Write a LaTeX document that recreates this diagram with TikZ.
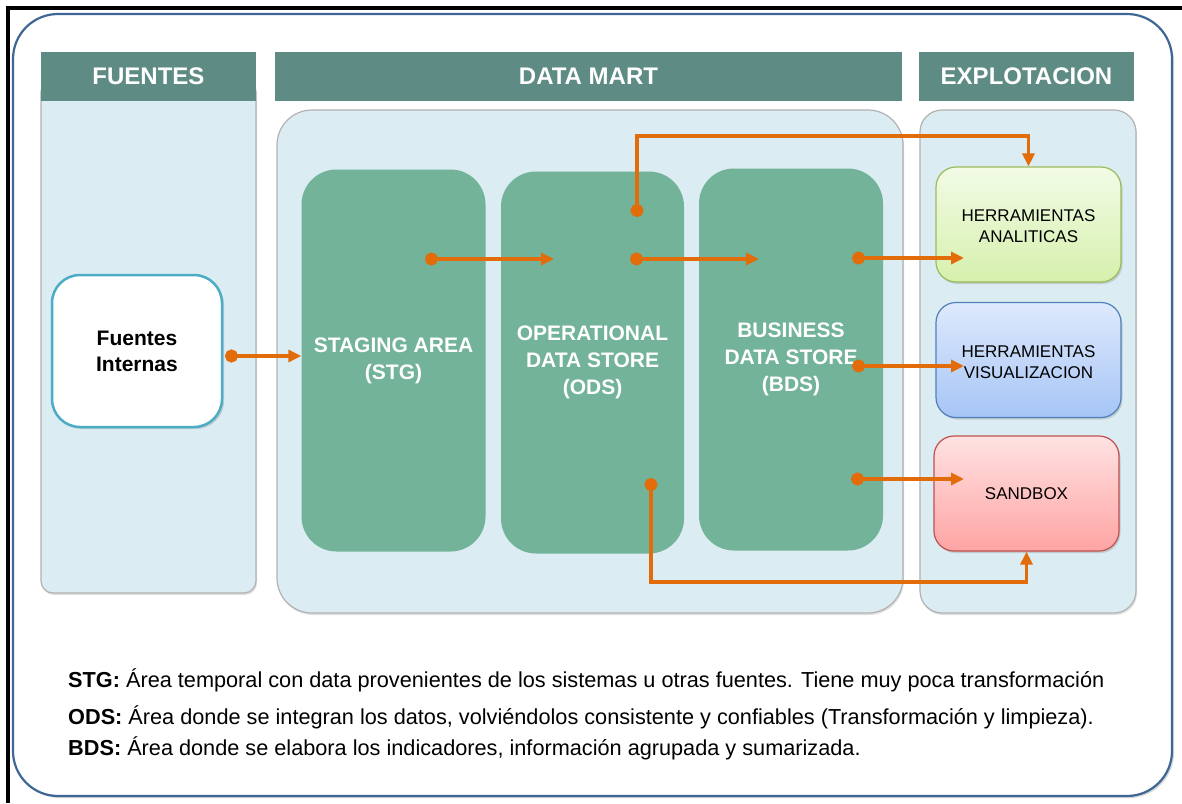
\documentclass[tikz,border=0pt]{standalone}
\usepackage{fontspec}
\setmainfont{Liberation Sans}
\usepackage{tikz}
\usetikzlibrary{arrows.meta, shadows, positioning}

\definecolor{cabecera}{HTML}{5E8B84}
\definecolor{fondo}{HTML}{DBECF2}
\definecolor{capa}{HTML}{72B39A}
\definecolor{naranja}{HTML}{E36C0A}
\definecolor{marco}{HTML}{3F6796}
\definecolor{borFuente}{HTML}{4BACC6}
\definecolor{borVerde}{HTML}{9BBB59}
\definecolor{verdeArriba}{HTML}{F2FBE6}
\definecolor{verdeAbajo}{HTML}{D6F0AC}
\definecolor{borAzul}{HTML}{4F81BD}
\definecolor{azulArriba}{HTML}{DEE9FC}
\definecolor{azulAbajo}{HTML}{A6C5F6}
\definecolor{borRojo}{HTML}{C0504D}
\definecolor{rojoArriba}{HTML}{FFE2E2}
\definecolor{rojoAbajo}{HTML}{FFA4A4}

\begin{document}
\begin{tikzpicture}[x=1pt, y=-1pt, font=\fontsize{20}{24}\selectfont,
    titulo/.style={fill=cabecera, text=white, font=\bfseries\fontsize{24}{28}\selectfont,
        minimum height=49pt, inner sep=0pt},
    panel/.style={fill=fondo, draw=black!30, line width=1.2pt, inner sep=0pt,
        drop shadow={shadow xshift=1pt, shadow yshift=-2pt, opacity=0.25}},
    etapa/.style={fill=capa, text=white, rounded corners=35pt, inner sep=0pt,
        minimum width=184pt, minimum height=382pt, align=center,
        font=\bfseries\fontsize{21}{27}\selectfont},
    herramienta/.style={rounded corners=20pt, inner sep=0pt, line width=1.2pt,
        minimum width=185pt, minimum height=115pt, align=center,
        font=\fontsize{17}{21}\selectfont,
        drop shadow={shadow xshift=1.5pt, shadow yshift=-2pt, opacity=0.3}},
    flecha/.style={draw=naranja, line width=3.5pt,
        {Circle[length=13pt]}-{Triangle[length=13pt, width=12pt]}},
    guia/.style={anchor=west, inner sep=0pt, font=\fontsize{21.7}{26}\selectfont}]

    \useasboundingbox (0,0) rectangle (1182,803);
    \fill[white] (0,0) rectangle (1182,803);

    % --- Marco exterior ---
    \draw[line width=3.5pt] (8,803) -- (8,8) -- (1182,8);
    \node[draw=marco, line width=2.2pt, fill=white, rounded corners=45pt,
        minimum width=1159pt, minimum height=782pt, inner sep=0pt,
        drop shadow={shadow xshift=2pt, shadow yshift=-2pt, opacity=0.3}] (marco) at (592.5,405) {};

    % --- Paneles de las columnas ---
    \node[panel, rounded corners=12pt, minimum width=215pt, minimum height=513pt] (pFuentes) at (148.5,336.5) {};
    \node[panel, rounded corners=35pt, minimum width=626pt, minimum height=503pt] (pDataMart) at (590,361.5) {};
    \node[panel, rounded corners=22pt, minimum width=216pt, minimum height=503pt] (pExplot) at (1028,361.5) {};

    % --- Cabeceras ---
    \node[titulo, minimum width=215pt] (hFuentes) at (148.5,76.5) {FUENTES};
    \node[titulo, minimum width=627pt] (hDataMart) at (588.5,76.5) {DATA MART};
    \node[titulo, minimum width=215pt] (hExplot) at (1026.5,76.5) {EXPLOTACION};

    % --- Fuentes ---
    \node[draw=borFuente, fill=white, line width=2.5pt, rounded corners=28pt,
        minimum width=170pt, minimum height=152pt, inner sep=0pt, align=center,
        font=\bfseries\fontsize{21}{26}\selectfont,
        drop shadow={shadow xshift=2pt, shadow yshift=-2pt, opacity=0.3}] (fi) at (137,351) {Fuentes\\Internas};

    % --- Data Mart: STG, ODS, BDS ---
    \node[etapa] (stg) at (393.5,360.5) {STAGING AREA\\(STG)};
    \node[etapa, minimum width=183pt] (ods) at (592.5,362.5) {OPERATIONAL\\DATA STORE\\(ODS)};
    \node[etapa] (bds) at (791,359.5) {BUSINESS\\DATA STORE\\(BDS)};

    % --- Explotacion ---
    \node[herramienta, draw=borVerde, top color=verdeArriba, bottom color=verdeAbajo] (ana) at (1028.5,224.5) {\rule{0pt}{16pt}HERRAMIENTAS\\ANALITICAS};
    \node[herramienta, draw=borAzul, top color=azulArriba, bottom color=azulAbajo] (vis) at (1028.5,360) {\rule{0pt}{16pt}HERRAMIENTAS\\VISUALIZACION};
    \node[herramienta, draw=borRojo, top color=rojoArriba, bottom color=rojoAbajo] (sbx) at (1026.5,493.5) {SANDBOX};

    % --- Puntos de salida y llegada ---
    \coordinate (fiOut) at (225,356);
    \coordinate (stgOut) at (425,259);
    \coordinate (odsIn) at (554,259);
    \coordinate (odsOut) at (630,259);
    \coordinate (bdsIn) at (759,259);
    \coordinate (bdsOutA) at (852,258);
    \coordinate (anaIn) at (964,258);
    \coordinate (bdsOutV) at (852,366);
    \coordinate (visIn) at (964,366);
    \coordinate (bdsOutS) at (851,479);
    \coordinate (sbxIn) at (964,479);
    \coordinate (odsArriba) at (637,217);
    \coordinate (arriba) at (637,136);
    \coordinate (odsAbajo) at (651,478);
    \coordinate (abajo) at (651,582);

    % --- Flechas ---
    \draw[flecha] (fiOut) -- (fiOut -| stg.west);
    \draw[flecha] (stgOut) -- (odsIn);
    \draw[flecha] (odsOut) -- (bdsIn);
    \draw[flecha] (bdsOutA) -- (anaIn);
    \draw[flecha] (bdsOutV) -- (visIn);
    \draw[flecha] (bdsOutS) -- (sbxIn);
    \draw[flecha] (odsArriba) -- (arriba) -| (ana.north);
    \draw[flecha] (odsAbajo) -- (abajo) -| (sbx.south);

    % --- Leyenda ---
    \node[guia] (legSTG) at (68,680) {\textbf{STG:} Área temporal con data provenientes de los sistemas u otras fuentes. Tiene muy poca transformación};
    \node[guia] (legODS) at (68,717) {\textbf{ODS:} Área donde se integran los datos, volviéndolos consistente y confiables (Transformación y limpieza).};
    \node[guia] (legBDS) at (68,748) {\textbf{BDS:} Área donde se elabora los indicadores, información agrupada y sumarizada.};

\end{tikzpicture}
\end{document}
